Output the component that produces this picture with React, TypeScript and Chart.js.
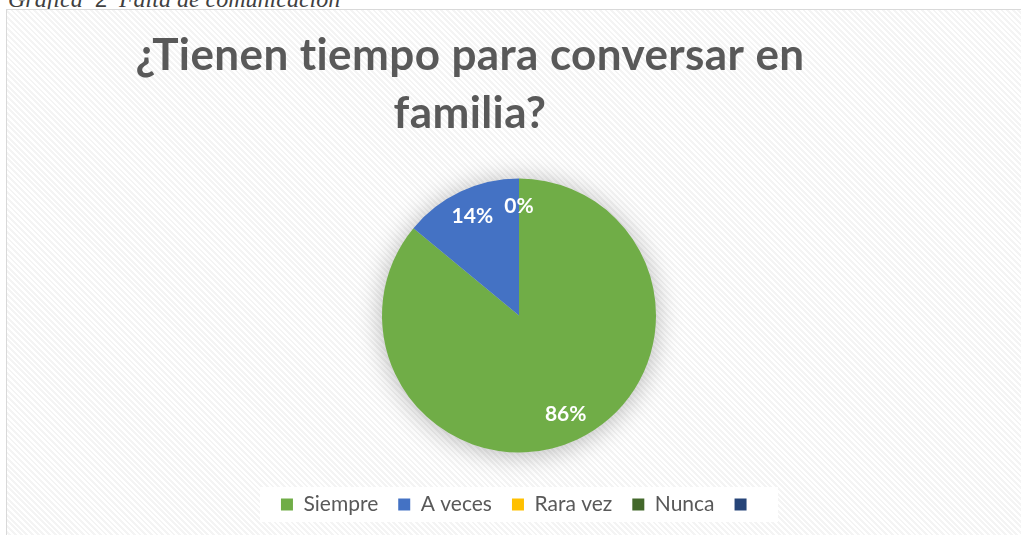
import React, { useEffect, useRef } from "react";
import { Chart, registerables } from "chart.js";

Chart.register(...registerables);

const captionWords = ["Gráfica", "2", "Falta de comunicación"];
const titleLines = ["¿Tienen tiempo para conversar en", "familia?"];
const categories = ["Siempre", "A veces", "Rara vez", "Nunca", ""];
const values: (number | null)[] = [86, 14, 0, null, null];
const sliceColors = ["#70AD47", "#4472C4", "#FFC000", "#43682B", "#264478"];

const FONT = "Lato, 'Open Sans', sans-serif";

const decorPlugin = {
  id: "decor",
  beforeDraw(chart: any) {
    const { ctx } = chart;
    const lg = chart.legend;
    if (lg && lg.legendHitBoxes && lg.legendHitBoxes.length) {
      const boxes = lg.legendHitBoxes;
      const minX = Math.min(...boxes.map((b: any) => b.left));
      const maxX = Math.max(...boxes.map((b: any) => b.left + b.width));
      const top = boxes[0].top;
      const h = boxes[0].height;
      ctx.save();
      ctx.fillStyle = "#ffffff";
      ctx.fillRect(minX - 21, top - 7, maxX - minX + 42, h + 14);
      ctx.restore();
    }
    // title
    ctx.save();
    ctx.fillStyle = "#595959";
    ctx.font = `bold 44px ${FONT}`;
    try {
      (ctx as any).letterSpacing = "0.4px";
    } catch (e) {}
    ctx.textAlign = "center";
    ctx.textBaseline = "alphabetic";
    const cx = chart.width / 2 - 44;
    titleLines.forEach((line, i) => {
      ctx.fillText(line, cx, 60 + i * 58);
    });
    ctx.restore();
  },
  beforeDatasetsDraw(chart: any) {
    const { ctx } = chart;
    const meta = chart.getDatasetMeta(0);
    const arc = meta.data[0];
    if (!arc) return;
    ctx.save();
    ctx.shadowColor = "rgba(0,0,0,0.28)";
    ctx.shadowBlur = 26;
    ctx.shadowOffsetX = 0;
    ctx.shadowOffsetY = 2;
    ctx.fillStyle = "#d9d9d9";
    ctx.beginPath();
    ctx.arc(arc.x, arc.y, arc.outerRadius, 0, Math.PI * 2);
    ctx.fill();
    ctx.restore();
  },
  afterDatasetsDraw(chart: any) {
    const { ctx } = chart;
    const meta = chart.getDatasetMeta(0);
    ctx.save();
    ctx.fillStyle = "#ffffff";
    ctx.font = `bold 21px ${FONT}`;
    ctx.textAlign = "center";
    ctx.textBaseline = "middle";
    meta.data.forEach((a: any, i: number) => {
      const v = values[i];
      if (v === null || v === undefined) return;
      const mid = (a.startAngle + a.endAngle) / 2;
      const r = a.outerRadius * 0.8;
      ctx.fillText(`${v}%`, a.x + Math.cos(mid) * r, a.y + Math.sin(mid) * r);
    });
    ctx.restore();
  },
};

export default function App() {
  const ref = useRef<HTMLCanvasElement | null>(null);

  useEffect(() => {
    if (!ref.current) return;
    Chart.defaults.font.family = FONT;
    const chart = new Chart(ref.current, {
      type: "pie",
      data: {
        labels: categories,
        datasets: [
          {
            data: values as any,
            backgroundColor: sliceColors,
            borderWidth: 0,
          },
        ],
      },
      options: {
        responsive: false,
        animation: false,
        radius: 137,
        layout: { padding: { top: 147, bottom: 10, left: 10, right: 0 } },
        plugins: {
          title: { display: false },
          tooltip: { enabled: false },
          legend: {
            display: true,
            position: "bottom",
            labels: {
              boxWidth: 12,
              boxHeight: 12,
              padding: 20,
              color: "#595959",
              font: { family: FONT, size: 21 },
            },
          },
        },
      } as any,
      plugins: [decorPlugin],
    });
    return () => chart.destroy();
  }, []);

  return (
    <div
      style={{
        position: "fixed",
        left: 0,
        top: 0,
        width: 1021,
        height: 535,
        overflow: "hidden",
        background: "#ffffff",
      }}
    >
      <div
        style={{
          position: "absolute",
          left: 8,
          top: -13,
          fontFamily: "'Liberation Serif', 'Times New Roman', serif",
          fontSize: 24,
          lineHeight: "24px",
          color: "#404040",
          whiteSpace: "pre",
        }}
      >
        <i>{captionWords[0]}</i>
        {"  "}
        <span style={{ fontFamily: "'Liberation Sans', Arial, sans-serif", fontSize: 22 }}>
          {captionWords[1]}
        </span>
        {"  "}
        <i>{captionWords[2]}</i>
      </div>
      <div
        style={{
          position: "absolute",
          left: 6,
          top: 9,
          width: 1030,
          height: 540,
          border: "1px solid #d9d9d9",
          backgroundColor: "#ffffff",
          backgroundImage:
            "repeating-linear-gradient(45deg, #f4f4f4 0px, #f4f4f4 2px, #ffffff 2px, #ffffff 4px)",
        }}
      >
        <canvas ref={ref} width={1014} height={525} style={{ display: "block" }} />
      </div>
    </div>
  );
}
